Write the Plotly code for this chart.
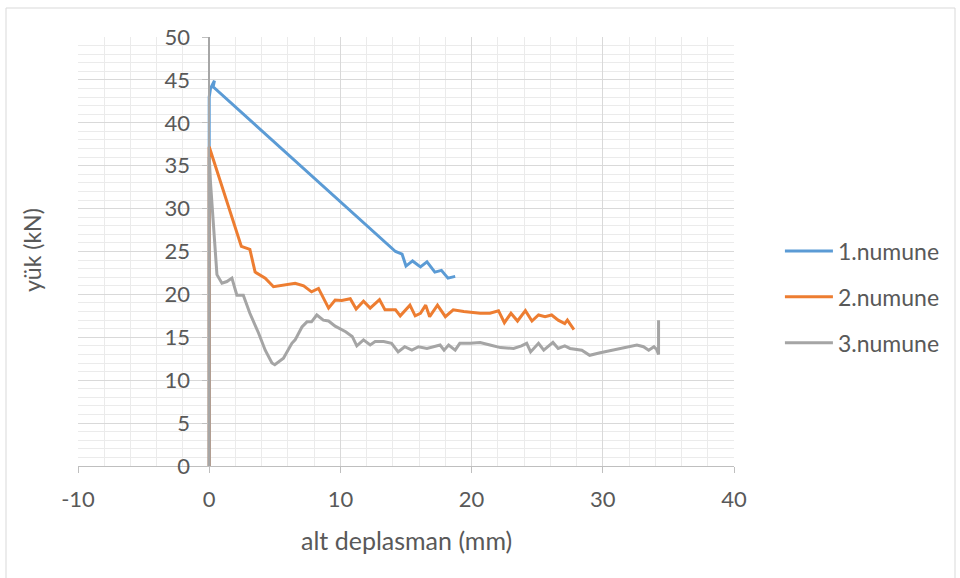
import plotly.graph_objects as go

# Series 1
s1_x = [0, 0, 0.1, 0.4, 0.3, 14.2, 14.7, 15.0, 15.5, 16.1, 16.6, 17.2, 17.7, 18.2, 18.75]
s1_y = [0, 43.0, 44.0, 44.9, 44.2, 25.0, 24.7, 23.3, 23.9, 23.2, 23.8, 22.6, 22.8, 21.9, 22.1]

# Series 2
s2_x = [0, 0, 2.45, 3.1, 3.5, 4.27, 4.9, 6.55, 7.2, 7.8, 8.33, 9.1, 9.6, 10.1, 10.75, 11.2,
        11.76, 12.27, 12.98, 13.4, 14.2, 14.56, 15.3, 15.7, 16.1, 16.5, 16.8, 17.4, 18.0,
        18.6, 19.4, 20.1, 20.65, 21.4, 22.05, 22.5, 23.0, 23.5, 24.1, 24.6, 25.1, 25.6,
        26.1, 26.6, 27.1, 27.3, 27.8]
s2_y = [0, 37.2, 25.6, 25.25, 22.6, 21.9, 20.9, 21.3, 21.0, 20.3, 20.7, 18.4, 19.35, 19.3,
        19.5, 18.3, 19.2, 18.4, 19.4, 18.2, 18.2, 17.5, 18.75, 17.5, 17.8, 18.75, 17.4,
        18.75, 17.4, 18.2, 18.0, 17.9, 17.8, 17.8, 18.1, 16.7, 17.8, 16.9, 18.1, 16.9,
        17.6, 17.4, 17.6, 17.0, 16.6, 17.0, 15.9]

# Series 3
s3_x = [0, 0, 0.1, 0.59, 0.97, 1.35, 1.73, 2.11, 2.6, 3.1, 3.76, 4.27, 4.78, 5.0, 5.66,
        6.3, 6.55, 7.07, 7.45, 7.8, 8.2, 8.7, 9.1, 9.6, 10.4, 10.9, 11.25, 11.76, 12.27,
        12.65, 13.3, 13.9, 14.4, 14.9, 15.45, 15.95, 16.6, 17.1, 17.6, 17.9, 18.25, 18.75,
        19.1, 19.9, 20.65, 21.4, 22.2, 23.2, 23.8, 24.2, 24.5, 25.1, 25.5, 26.2, 26.6,
        27.1, 27.5, 28.4, 29.0, 29.8, 30.8, 31.6, 32.6, 33.1, 33.5, 33.9, 34.1, 34.25,
        34.25, 34.25]
s3_y = [0, 36.0, 33.0, 22.3, 21.3, 21.5, 21.9, 19.9, 19.9, 17.8, 15.5, 13.5, 12.0, 11.8,
        12.55, 14.3, 14.7, 16.2, 16.8, 16.8, 17.6, 17.0, 16.9, 16.3, 15.65, 15.1, 14.0,
        14.7, 14.1, 14.5, 14.5, 14.3, 13.3, 13.9, 13.5, 13.9, 13.7, 13.9, 14.1, 13.5, 14.1,
        13.5, 14.3, 14.3, 14.4, 14.1, 13.8, 13.7, 14.0, 14.3, 13.3, 14.3, 13.5, 14.4, 13.7,
        14.0, 13.7, 13.5, 12.9, 13.2, 13.5, 13.8, 14.1, 13.9, 13.5, 13.9, 13.6, 13.0,
        17.0, 13.6]

names = ["1.numune", "2.numune", "3.numune"]
colors = ["#5B9BD5", "#ED7D31", "#A5A5A5"]

x_ticks = [-10, 0, 10, 20, 30, 40]
y_ticks = [0, 5, 10, 15, 20, 25, 30, 35, 40, 45, 50]

FONT = "Lato, 'Open Sans', sans-serif"
TXT = "#595959"

fig = go.Figure()
for i, (xs, ys) in enumerate([(s1_x, s1_y), (s2_x, s2_y), (s3_x, s3_y)]):
    fig.add_trace(go.Scatter(x=xs, y=ys, mode="lines", name=names[i],
                             legendgroup=names[i],
                             line=dict(color=colors[i], width=3)))

fig.update_layout(
    width=960, height=578,
    margin=dict(l=78, r=226, t=37, b=112),
    paper_bgcolor="white", plot_bgcolor="white",
    font=dict(family=FONT, size=22, color=TXT),
    showlegend=True,
    legend=dict(x=1.07, y=(466 - 297) / 429, xanchor="left", yanchor="middle",
                font=dict(family=FONT, size=23, color=TXT),
                tracegroupgap=13, itemwidth=48, bgcolor="rgba(0,0,0,0)"),
    xaxis=dict(range=[-10, 40], tickvals=x_ticks, ticktext=[str(v) for v in x_ticks],
               showgrid=True, gridcolor="#d9d9d9", gridwidth=1,
               minor=dict(dtick=2, showgrid=True, gridcolor="#ebebeb", gridwidth=1),
               zeroline=False, showline=True, linecolor="#bfbfbf", linewidth=1,
               ticks="outside", ticklen=6, tickcolor="#bfbfbf", ticklabelstandoff=8,
               tickfont=dict(size=22, color=TXT), fixedrange=True),
    yaxis=dict(range=[0, 50], tickvals=y_ticks, ticktext=[str(v) for v in y_ticks],
               anchor="free", position=0.2,
               showgrid=True, gridcolor="#d9d9d9", gridwidth=1,
               minor=dict(dtick=1, showgrid=True, gridcolor="#ebebeb", gridwidth=1),
               zeroline=False, showline=True, linecolor="#a6a6a6", linewidth=1.5,
               ticks="outside", ticklen=6, tickcolor="#bfbfbf", ticklabelstandoff=8,
               tickfont=dict(size=22, color=TXT), fixedrange=True),
    annotations=[
        dict(text="yük (kN)", xref="paper", yref="paper", x=(32 - 78) / 656,
             y=(466 - 250) / 429, textangle=-90, showarrow=False,
             font=dict(family=FONT, size=23, color=TXT), xanchor="center", yanchor="middle"),
        dict(text="alt deplasman (mm)", xref="paper", yref="paper", x=(406 - 78) / 656,
             y=(466 - 540) / 429, showarrow=False,
             font=dict(family=FONT, size=25, color=TXT), xanchor="center", yanchor="middle"),
    ],
    shapes=[
        dict(type="rect", xref="paper", yref="paper",
             x0=(6 - 78) / 656, x1=(955 - 78) / 656,
             y0=(466 - 590) / 429, y1=(466 - 8) / 429,
             line=dict(color="#d9d9d9", width=1), fillcolor="rgba(0,0,0,0)", layer="below"),
    ],
)

fig.write_html("out.html", config={"displayModeBar": False},
               post_script="document.body.style.margin='0';document.body.style.overflow='hidden';")
